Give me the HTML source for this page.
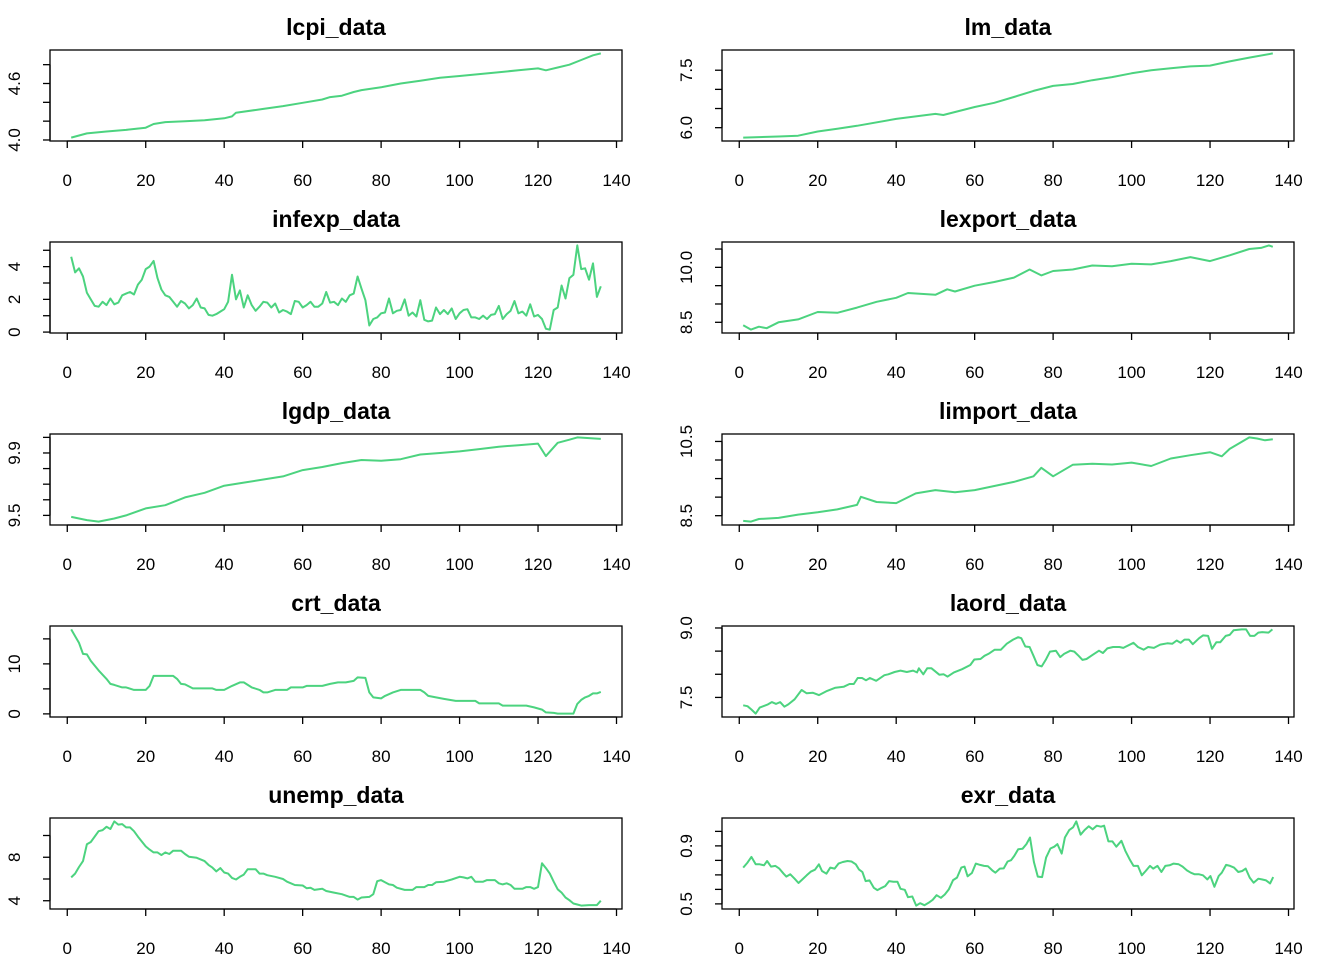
<!DOCTYPE html>
<html><head><meta charset="utf-8"><title>Time series panels</title>
<style>
html,body{margin:0;padding:0;background:#fff;}
svg{display:block;font-family:"Liberation Sans",Arial,sans-serif;}
</style></head>
<body>
<svg id="chart" width="1344" height="960" viewBox="0 0 1344 960" xmlns="http://www.w3.org/2000/svg"></svg>
<script>
// ---- data ----
const xTicks = [0,20,40,60,80,100,120,140];

const lcpiX = [1,5,10,15,20,22,25,30,35,40,42,43,50,55,60,65,67,70,73,75,80,85,90,95,100,105,110,115,120,122,125,128,131,134,136];
const lcpiY = [4.025,4.07,4.09,4.107,4.13,4.17,4.19,4.20,4.21,4.23,4.25,4.29,4.33,4.36,4.395,4.43,4.455,4.47,4.51,4.53,4.56,4.60,4.63,4.66,4.68,4.70,4.72,4.74,4.76,4.74,4.77,4.80,4.85,4.90,4.92];
const lcpiTicks = [4.0,4.2,4.4,4.6,4.8];
const lcpiLabels = ["4.0","","","4.6",""];

const lmX = [1,10,15,20,25,30,40,50,52,60,65,70,75,80,85,90,95,100,105,110,115,120,125,130,136];
const lmY = [5.74,5.77,5.79,5.90,5.97,6.05,6.23,6.36,6.33,6.54,6.65,6.80,6.96,7.09,7.14,7.24,7.32,7.42,7.50,7.55,7.60,7.62,7.73,7.83,7.94];
const lmTicks = [6.0,6.5,7.0,7.5];
const lmLabels = ["6.0","","","7.5"];

const infexpY = [4.6,3.65,3.9,3.4,2.4,2.0,1.6,1.55,1.85,1.65,
2.05,1.7,1.8,2.25,2.35,2.45,2.3,2.9,3.2,3.85,
4.0,4.35,3.3,2.6,2.25,2.15,1.85,1.55,1.9,1.75,
1.45,1.65,2.05,1.5,1.45,1.05,1.0,1.1,1.25,1.4,
1.85,3.5,2.0,2.55,1.5,2.25,1.65,1.3,1.55,1.85,
1.8,1.5,1.75,1.2,1.35,1.25,1.1,1.9,1.85,1.5,
1.65,1.85,1.55,1.55,1.75,2.45,1.8,1.85,1.65,2.05,
1.85,2.25,2.35,3.4,2.65,1.95,0.4,0.8,0.9,1.15,
1.2,2.05,1.15,1.3,1.35,2.0,1.0,1.2,0.95,1.95,
0.75,0.65,0.7,1.5,1.1,1.35,1.1,1.45,0.8,1.15,
1.35,1.4,0.9,0.9,0.8,1.0,0.8,1.05,1.1,1.6,
0.8,1.1,1.3,1.9,1.15,1.25,1.0,1.7,0.95,1.05,
0.8,0.2,0.15,1.35,1.5,2.85,2.05,3.3,3.5,5.3,
3.85,3.9,3.2,4.2,2.15,2.8];
const infexpX = infexpY.map((v,i)=>i+1);
const infexpTicks = [0,1,2,3,4,5];
const infexpLabels = ["0","","2","","4",""];

const lexportX = [1,3,5,7,10,15,20,25,30,35,40,43,50,53,55,60,65,70,74,77,80,85,90,95,100,105,110,115,120,125,130,133,135,136];
const lexportY = [8.42,8.30,8.38,8.34,8.50,8.58,8.78,8.76,8.90,9.06,9.17,9.30,9.25,9.40,9.34,9.50,9.60,9.72,9.94,9.78,9.90,9.94,10.05,10.03,10.10,10.08,10.17,10.28,10.17,10.33,10.50,10.53,10.60,10.56];
const lexportTicks = [8.5,9.0,9.5,10.0,10.5];
const lexportLabels = ["8.5","","","10.0",""];

const lgdpX = [1,5,8,12,15,20,25,30,35,40,45,50,55,60,65,70,75,80,85,90,95,100,105,110,115,120,122,125,128,130,136];
const lgdpY = [9.49,9.47,9.46,9.48,9.50,9.545,9.565,9.615,9.645,9.69,9.71,9.73,9.75,9.79,9.81,9.835,9.855,9.85,9.86,9.89,9.90,9.91,9.925,9.94,9.95,9.96,9.88,9.965,9.985,10.0,9.99];
const lgdpTicks = [9.5,9.6,9.7,9.8,9.9,10.0];
const lgdpLabels = ["9.5","","","","9.9",""];

const limportX = [1,3,5,10,15,20,25,30,31,35,40,45,50,55,60,65,70,75,77,80,85,90,95,100,105,110,115,120,123,125,130,132,134,136];
const limportY = [8.36,8.34,8.41,8.44,8.53,8.59,8.67,8.79,9.01,8.87,8.84,9.10,9.19,9.13,9.19,9.30,9.41,9.56,9.79,9.56,9.87,9.90,9.88,9.93,9.84,10.04,10.13,10.21,10.10,10.30,10.61,10.58,10.53,10.56];
const limportTicks = [8.5,9.0,9.5,10.0,10.5];
const limportLabels = ["8.5","","","","10.5"];

const crtX = [1,3,4,5,6,8,10,11,12,14,15,17,20,21,22,27,28,29,30,32,37,38,40,42,44,45,47,49,50,51,53,56,57,60,61,65,67,69,71,73,74,76,77,78,80,81,83,85,90,91,92,94,96,99,104,105,110,111,117,119,121,122,124,125,129,130,131,132,133,134,135,136];
const crtY = [16.9,14.2,12.0,11.9,10.6,8.7,7.0,6.0,5.8,5.3,5.3,4.8,4.8,5.6,7.6,7.6,7.0,6.0,5.9,5.1,5.1,4.8,4.8,5.6,6.3,6.3,5.3,4.8,4.3,4.3,4.8,4.8,5.3,5.3,5.6,5.6,6.0,6.3,6.3,6.6,7.3,7.2,4.3,3.3,3.1,3.6,4.3,4.8,4.8,4.3,3.6,3.3,3.0,2.6,2.6,2.1,2.1,1.65,1.65,1.3,0.85,0.3,0.2,0.05,0.05,2.0,2.8,3.3,3.6,4.1,4.1,4.4];
const crtTicks = [0,5,10,15];
const crtLabels = ["0","","10",""];

const laordX = [1.0,2.1,3.1,4.2,5.2,7.3,8.3,9.4,10.4,11.5,12.5,14.1,15.9,17.2,18.8,20.3,22.4,24.5,26.6,28.1,29.2,30.2,31.3,32.3,33.3,34.9,37.0,38.0,39.6,41.1,42.7,44.3,45.3,45.8,46.9,47.9,49.0,51.0,52.1,53.1,54.7,56.8,58.9,59.9,61.5,62.5,63.5,65.1,66.7,68.2,69.8,71.1,71.9,72.9,74.0,75.0,76.0,77.1,78.1,79.2,80.7,81.8,82.8,84.4,85.4,86.5,87.5,88.5,90.1,91.7,92.7,93.8,95.3,96.9,97.9,100.5,101.6,103.1,104.2,105.7,107.3,109.1,110.4,111.5,112.5,113.5,114.6,115.6,117.2,118.2,119.5,120.5,121.6,122.6,124.0,125.0,126.0,128.1,129.2,130.2,131.3,132.3,133.3,134.9,135.9];
const laordY = [7.33,7.31,7.24,7.15,7.28,7.35,7.40,7.36,7.40,7.30,7.35,7.46,7.66,7.59,7.60,7.55,7.64,7.71,7.73,7.79,7.79,7.92,7.92,7.87,7.92,7.86,7.98,8.00,8.05,8.08,8.05,8.08,8.04,8.13,8.00,8.13,8.13,7.99,8.00,7.95,8.04,8.11,8.20,8.32,8.33,8.40,8.44,8.53,8.53,8.66,8.75,8.80,8.78,8.60,8.59,8.40,8.20,8.17,8.31,8.49,8.51,8.37,8.44,8.51,8.49,8.40,8.31,8.33,8.42,8.51,8.46,8.56,8.59,8.59,8.57,8.68,8.59,8.53,8.59,8.57,8.64,8.67,8.66,8.73,8.68,8.75,8.75,8.65,8.78,8.84,8.83,8.55,8.69,8.69,8.83,8.85,8.95,8.97,8.97,8.83,8.83,8.90,8.91,8.90,8.97];
const laordTicks = [7.5,8.0,8.5,9.0];
const laordLabels = ["7.5","","","9.0"];

const unempX = [1,2,3,4,5,6,8,9,10,11,12,13,14,15,16,17,18,19,20,21,22,23,24,25,26,27,29,30,31,33,35,36,37,38,39,40,41,42,43,44,45,46,48,49,50,51,53,55,56,57,58,60,61,62,63,65,66,68,70,72,73,74,75,77,78,79,80,81,82,83,84,86,88,89,91,92,93,94,96,98,100,101,102,103,104,106,107,109,110,111,112,113,114,116,117,118,119,120,121,122,123,124,125,126,127,128,129,130,131,133,135,136];
const unempY = [6.15,6.5,7.1,7.65,9.2,9.4,10.4,10.5,10.8,10.6,11.3,11.0,11.05,10.75,10.75,10.4,9.9,9.45,9.0,8.7,8.45,8.45,8.2,8.45,8.3,8.6,8.6,8.3,8.05,7.95,7.65,7.3,7.05,6.7,7.0,6.6,6.5,6.1,5.95,6.2,6.4,6.9,6.9,6.5,6.5,6.35,6.2,6.0,5.75,5.6,5.45,5.4,5.15,5.2,5.0,5.1,4.9,4.75,4.6,4.35,4.35,4.1,4.3,4.35,4.6,5.8,5.9,5.7,5.5,5.45,5.2,5.0,5.0,5.25,5.25,5.45,5.45,5.7,5.75,5.95,6.2,6.15,6.05,6.2,5.75,5.75,5.9,5.9,5.6,5.5,5.6,5.45,5.1,5.1,5.25,5.25,5.1,5.25,7.45,7.0,6.5,5.75,5.05,4.75,4.3,4.05,3.75,3.65,3.55,3.6,3.6,4.0];
const unempTicks = [4,6,8,10];
const unempLabels = ["4","","8",""];

const exrX = [1.0,2.1,3.1,4.2,5.2,6.3,7.1,8.1,9.2,10.2,11.3,12.0,13.0,14.1,15.1,16.1,17.2,18.2,19.3,20.3,21.1,22.2,23.2,24.3,25.3,26.4,27.6,28.6,29.7,30.5,31.4,32.2,33.2,34.3,35.2,36.3,37.2,38.2,39.3,40.3,41.1,42.2,43.0,44.1,45.1,46.1,47.2,48.2,49.3,50.3,51.4,52.4,53.4,54.5,55.5,56.6,57.4,58.2,59.3,60.3,61.4,62.4,63.4,64.5,65.3,66.4,67.4,68.4,69.3,70.1,71.1,72.2,73.2,74.1,75.1,76.1,77.2,78.2,79.3,80.3,81.1,82.2,83.0,84.1,85.1,85.9,87.0,88.0,89.1,90.1,91.1,92.2,93.0,94.1,95.1,96.1,97.4,98.4,99.5,100.5,101.6,102.6,103.6,104.7,105.5,106.6,107.6,108.6,109.7,110.7,112.0,113.0,114.1,115.1,116.1,117.2,118.2,119.3,120.1,121.1,122.2,123.0,124.1,125.1,126.1,127.2,128.2,129.1,130.1,131.1,132.3,133.2,134.3,135.3,136.1];
const exrY = [0.750,0.785,0.824,0.773,0.773,0.766,0.796,0.757,0.762,0.743,0.708,0.688,0.704,0.674,0.644,0.669,0.697,0.722,0.736,0.773,0.727,0.708,0.750,0.743,0.778,0.789,0.796,0.792,0.773,0.738,0.720,0.657,0.662,0.611,0.595,0.611,0.623,0.657,0.653,0.653,0.604,0.597,0.546,0.551,0.488,0.505,0.491,0.507,0.528,0.560,0.542,0.565,0.600,0.664,0.681,0.750,0.757,0.690,0.713,0.778,0.769,0.762,0.759,0.731,0.715,0.743,0.745,0.792,0.801,0.831,0.877,0.880,0.912,0.958,0.789,0.688,0.685,0.819,0.882,0.894,0.912,0.847,0.958,1.009,1.028,1.069,0.977,1.009,1.035,1.014,1.039,1.032,1.039,0.931,0.931,0.894,0.935,0.866,0.808,0.762,0.762,0.697,0.727,0.762,0.743,0.762,0.720,0.762,0.766,0.778,0.773,0.757,0.731,0.715,0.704,0.704,0.697,0.669,0.692,0.618,0.692,0.715,0.769,0.762,0.750,0.720,0.727,0.743,0.681,0.646,0.674,0.669,0.662,0.641,0.685];
const exrTicks = [0.5,0.6,0.7,0.8,0.9,1.0];
const exrLabels = ["0.5","","","","0.9",""];

// ---- drawing ----
const NS = "http://www.w3.org/2000/svg";
const svg = document.getElementById("chart");
const LINE = "#4cd37f";
function mk(tag, attrs, parent){
  const e = document.createElementNS(NS, tag);
  for (const k in attrs) e.setAttribute(k, attrs[k]);
  (parent||svg).appendChild(e);
  return e;
}
function panel(key, title, xs, ys, yTicks, yLabels, col, row){
  const L = col===0 ? 50 : 722, R = L + 572;
  const T = 50 + row*192, B = T + 91;
  const g = mk("g", {});
  
  
  const xmin = 1, xmax = 136, xr = xmax - xmin;
  const x0 = xmin - 0.04*xr, x1 = xmax + 0.04*xr;
  let ymin = Math.min(...ys), ymax = Math.max(...ys), yr = ymax - ymin;
  const y0 = ymin - 0.04*yr, y1 = ymax + 0.04*yr;
  const sx = v => L + (v - x0)/(x1 - x0)*(R - L);
  const sy = v => B - (v - y0)/(y1 - y0)*(B - T);
  const t = mk("text", {x:(L+R)/2, y:T-15, "text-anchor":"middle", "font-size":"23", "font-weight":"bold", fill:"#000"}, g);
  t.textContent = title;
  
  
  const d = xs.map((x,i)=>(i?"L":"M")+sx(x).toFixed(1)+","+sy(ys[i]).toFixed(1)).join("");
  const p = mk("path", {d:d, fill:"none", stroke:LINE, "stroke-width":"2", "stroke-linejoin":"round"}, g);
  
  
  const bx = mk("rect", {x:L, y:T, width:R-L, height:B-T, fill:"none", stroke:"#000", "stroke-width":"1.3"}, g);
  
  
  const xa = mk("g", {}, g);
  
  
  mk("line", {x1:sx(xTicks[0]), x2:sx(xTicks[xTicks.length-1]), y1:B, y2:B, stroke:"#000", "stroke-width":"1.3"}, xa);
  xTicks.forEach(v=>{
    mk("line", {x1:sx(v), x2:sx(v), y1:B, y2:B+7, stroke:"#000", "stroke-width":"1.3"}, xa);
    const lt = mk("text", {x:sx(v), y:B+45, "text-anchor":"middle", "font-size":"17", fill:"#000"}, xa);
    lt.textContent = v;
    
    
  });
  const ya = mk("g", {}, g);
  
  
  mk("line", {x1:L, x2:L, y1:sy(yTicks[0]), y2:sy(yTicks[yTicks.length-1]), stroke:"#000", "stroke-width":"1.3"}, ya);
  yTicks.forEach((v,i)=>{
    const yy = sy(v);
    mk("line", {x1:L-7, x2:L, y1:yy, y2:yy, stroke:"#000", "stroke-width":"1.3"}, ya);
    if (yLabels[i]) {
      const lx = L - 30;
      const lt = mk("text", {x:lx, y:yy, "text-anchor":"middle", "font-size":"17", fill:"#000", transform:"rotate(-90 "+lx+" "+yy+")"}, ya);
      lt.textContent = yLabels[i];
      
      
    }
  });
}
panel("lcpi", "lcpi_data", lcpiX, lcpiY, lcpiTicks, lcpiLabels, 0, 0);
panel("lm", "lm_data", lmX, lmY, lmTicks, lmLabels, 1, 0);
panel("infexp", "infexp_data", infexpX, infexpY, infexpTicks, infexpLabels, 0, 1);
panel("lexport", "lexport_data", lexportX, lexportY, lexportTicks, lexportLabels, 1, 1);
panel("lgdp", "lgdp_data", lgdpX, lgdpY, lgdpTicks, lgdpLabels, 0, 2);
panel("limport", "limport_data", limportX, limportY, limportTicks, limportLabels, 1, 2);
panel("crt", "crt_data", crtX, crtY, crtTicks, crtLabels, 0, 3);
panel("laord", "laord_data", laordX, laordY, laordTicks, laordLabels, 1, 3);
panel("unemp", "unemp_data", unempX, unempY, unempTicks, unempLabels, 0, 4);
panel("exr", "exr_data", exrX, exrY, exrTicks, exrLabels, 1, 4);
</script>
</body></html>
